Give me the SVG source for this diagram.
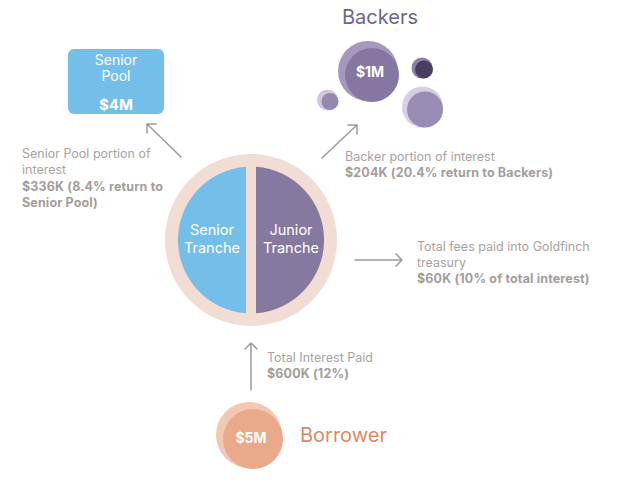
<svg xmlns="http://www.w3.org/2000/svg" width="619" height="482" viewBox="0 0 619 482">
<defs>
<style>
.lbl{font-family:Inter,"Liberation Sans",sans-serif;font-size:12.5px;fill:#a8a29e}
.b{font-weight:700;fill:#a39d99;letter-spacing:0.15px}
.conn{stroke:#a09a96;stroke-width:1.5;fill:none;stroke-linecap:round;stroke-linejoin:round}
.wt{font-family:Inter,"Liberation Sans",sans-serif;fill:#ffffff;text-anchor:middle}
</style>
</defs>
<rect width="619" height="482" fill="#ffffff"/>

<g id="senior-pool">
<rect x="68" y="49" width="96" height="65" rx="6" fill="#74bfea"/>
<text class="wt" x="116" y="65" font-size="14">Senior</text>
<text class="wt" x="116" y="81" font-size="14">Pool</text>
<text class="wt" x="116" y="110" font-size="15" font-weight="700">$4M</text>
</g>

<g id="backers">
<text x="380" y="24" font-family="Inter,'Liberation Sans',sans-serif" font-size="20" fill="#6e6490" text-anchor="middle">Backers</text>
<circle cx="368" cy="71" r="30" fill="#a598bf"/>
<circle cx="372" cy="75" r="27" fill="#8677a2"/>
<text class="wt" x="370" y="77" font-size="14" font-weight="700">$1M</text>
<circle cx="422" cy="68" r="10.5" fill="#8a7fa6"/>
<circle cx="424" cy="69.5" r="9" fill="#4a3d62"/>
<circle cx="327.5" cy="100" r="10.5" fill="#cfc8de"/>
<circle cx="330" cy="101.5" r="8.5" fill="#9587b0"/>
<circle cx="422.5" cy="107" r="20.5" fill="#d5cfe3"/>
<circle cx="425" cy="109.5" r="18" fill="#9a8db5"/>
</g>

<g id="pool">
<circle cx="251" cy="240" r="86" fill="#f1ddd3"/>
<path d="M246 166.7 A73.5 73.5 0 0 0 246 313.3 Z" fill="#74bfea"/>
<path d="M256 166.7 A73.5 73.5 0 0 1 256 313.3 Z" fill="#86799f"/>
<text class="wt" x="212" y="235" font-size="14.5">Senior</text>
<text class="wt" x="212" y="253" font-size="14.5">Tranche</text>
<text class="wt" x="291" y="235" font-size="14.5" fill="#ece6f2">Junior</text>
<text class="wt" x="291" y="253" font-size="14.5" fill="#ece6f2">Tranche</text>
</g>

<g id="borrower">
<circle cx="249" cy="435" r="33" fill="#f2c8b3"/>
<circle cx="253" cy="439" r="30" fill="#eaa98a"/>
<text class="wt" x="251" y="443" font-size="14" font-weight="700">$5M</text>
<text x="300" y="442" font-family="Inter,'Liberation Sans',sans-serif" font-size="20" fill="#d98a66">Borrower</text>
</g>

<g id="connectors">
<path class="conn" d="M181 157 L147 124 M147 133 L147 124 L156 124"/>
<path class="conn" d="M322 158 L357 125 M348 125 L357 125 L357 134"/>
<path class="conn" d="M355 260 L402 260 M396 254 L402 260 L396 266"/>
<path class="conn" d="M251 390 L251 343 M245 349 L251 343 L257 349"/>
</g>

<g id="labels">
<text class="lbl" x="22" y="158">Senior Pool portion of</text>
<text class="lbl" x="22" y="174">interest</text>
<text class="lbl b" x="22" y="191">$336K (8.4% return to</text>
<text class="lbl b" x="22" y="207">Senior Pool)</text>
<text class="lbl" x="345" y="161">Backer portion of interest</text>
<text class="lbl b" x="345" y="177">$204K (20.4% return to Backers)</text>
<text class="lbl" x="417" y="251">Total fees paid into Goldfinch</text>
<text class="lbl" x="417" y="267">treasury</text>
<text class="lbl b" x="417" y="283">$60K (10% of total interest)</text>
<text class="lbl" x="267" y="362">Total Interest Paid</text>
<text class="lbl b" x="267" y="378">$600K (12%)</text>
</g>
</svg>
